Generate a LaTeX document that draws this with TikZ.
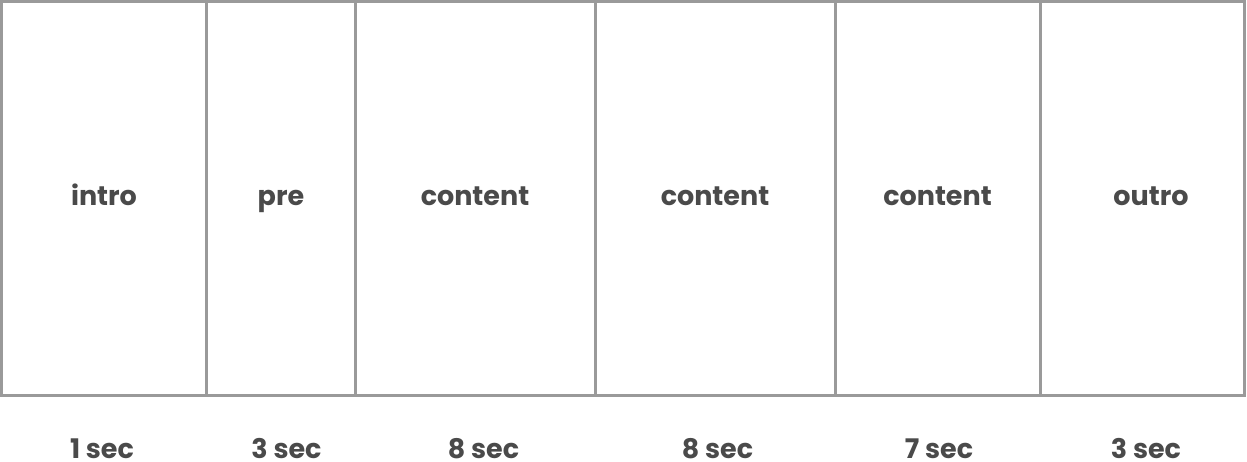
\documentclass[tikz,border=0pt]{standalone}
\usepackage{fontspec}
\setmainfont{Poppins}
\definecolor{framegray}{HTML}{9A9A9A}
\definecolor{labelgray}{HTML}{4A4A4A}
\tikzset{
	segment/.style={draw=framegray, line width=3pt, inner sep=0pt, outer sep=0pt, anchor=north west, minimum height=394pt},
	label/.style={text=labelgray, font=\fontsize{27}{32}\selectfont\bfseries, anchor=base, inner sep=0pt}
}
\begin{document}
	\begin{tikzpicture}[x=1pt, y=-1pt]
		\useasboundingbox (0,0) rectangle (1247,462);
		\node (intro) [segment, minimum width=204.5pt] at (1.5,1.5) {};
		\node (pre) [segment, minimum width=149pt] at (intro.north east) {};
		\node (contentA) [segment, minimum width=240pt] at (pre.north east) {};
		\node (contentB) [segment, minimum width=240pt] at (contentA.north east) {};
		\node (contentC) [segment, minimum width=205pt] at (contentB.north east) {};
		\node (outro) [segment, minimum width=204pt] at (contentC.north east) {};
		\node (introtxt) [label] at (104,206) {intro};
		\node (pretxt) [label] at (281,206) {pre};
		\node (contentAtxt) [label] at (475,206) {content};
		\node (contentBtxt) [label] at (715,206) {content};
		\node (contentCtxt) [label] at (937.5,206) {content};
		\node (outrotxt) [label] at (1151,206) {outro};
		\node (introsec) [label] at (102,458) {1 sec};
		\node (presec) [label] at (286.5,458) {3 sec};
		\node (contentAsec) [label] at (483.5,458) {8 sec};
		\node (contentBsec) [label] at (717.5,458) {8 sec};
		\node (contentCsec) [label] at (939,458) {7 sec};
		\node (outrosec) [label] at (1146,458) {3 sec};
	\end{tikzpicture}
\end{document}
